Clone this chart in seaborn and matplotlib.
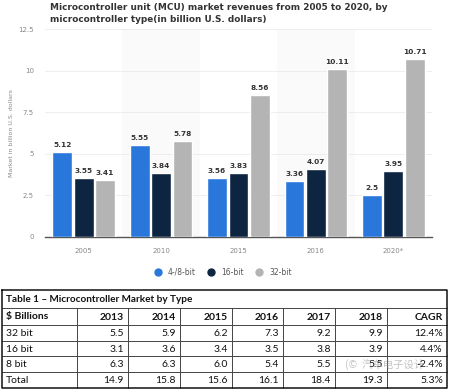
import pandas as pd
import seaborn as sns
import matplotlib.pyplot as plt
from matplotlib.lines import Line2D

# chart data (billion U.S. dollars)
years = ["2005", "2010", "2015", "2016", "2020*"]
mcu_4_8bit = [5.12, 5.55, 3.56, 3.36, 2.5]
mcu_16bit = [3.55, 3.84, 3.83, 4.07, 3.95]
mcu_32bit = [3.41, 5.78, 8.56, 10.11, 10.71]
series_names = ["4-/8-bit", "16-bit", "32-bit"]
colors = ["#2a77dc", "#0e2541", "#b4b4b4"]

# table data
table_title = "Table 1 – Microcontroller Market by Type"
table_header = ["$ Billions", "2013", "2014", "2015", "2016", "2017", "2018", "CAGR"]
row_32bit = ["32 bit", "5.5", "5.9", "6.2", "7.3", "9.2", "9.9", "12.4%"]
row_16bit = ["16 bit", "3.1", "3.6", "3.4", "3.5", "3.8", "3.9", "4.4%"]
row_8bit = ["8 bit", "6.3", "6.3", "6.0", "5.4", "5.5", "5.5", "-2.4%"]
row_total = ["Total", "14.9", "15.8", "15.6", "16.1", "18.4", "19.3", "5.3%"]

sns.set_style("white")
plt.rcParams['font.family'] = ['DejaVu Sans', 'Noto Sans CJK SC']

df = pd.DataFrame({
    "year": years * 3,
    "type": [s for s in series_names for _ in years],
    "value": mcu_4_8bit + mcu_16bit + mcu_32bit,
})

fig = plt.figure(figsize=(4.51, 3.91), dpi=100)
ax = fig.add_axes([0.0998, 0.394, 0.858, 0.5307])

for i in (1, 3):
    ax.axvspan(i - 0.5, i + 0.5, color="#fafafa", zorder=0, lw=0)

sns.barplot(data=df, x="year", y="value", hue="type", palette=colors,
            width=0.83, gap=0.08, ax=ax, legend=False, zorder=3, saturation=1)

for cont, vals in zip(ax.containers, [mcu_4_8bit, mcu_16bit, mcu_32bit]):
    ax.bar_label(cont, labels=[f"{v:g}" for v in vals], padding=3,
                 fontsize=5.3, fontweight="bold", color="#333333")

ax.set_xlim(-0.5, 4.5)
ax.set_ylim(0, 12.5)
ax.set_yticks([0, 2.5, 5, 7.5, 10, 12.5])
ax.set_yticklabels(["0", "2.5", "5", "7.5", "10", "12.5"])
ax.yaxis.grid(True, color="#ebebeb", lw=0.6, zorder=1)
ax.set_axisbelow(True)
ax.tick_params(axis="both", labelsize=5, colors="#888888", length=0, pad=8)
for s in ["left", "right", "top"]:
    ax.spines[s].set_visible(False)
ax.spines["bottom"].set_color("#555555")
ax.spines["bottom"].set_linewidth(1.0)
ax.set_xlabel("")
ax.set_ylabel("Market in billion U.S. dollars", fontsize=4.5, color="#888888", labelpad=3)

fig.text(0.111, 0.992, "Microcontroller unit (MCU) market revenues from 2005 to 2020, by\n"
         "microcontroller type(in billion U.S. dollars)",
         ha="left", va="top", fontsize=6.4, fontweight="bold", color="#333333", linespacing=1.35)

handles = [Line2D([], [], marker="o", ls="", color=c, markersize=5) for c in colors]
fig.legend(handles, series_names, loc="center", bbox_to_anchor=(0.49, 0.304), ncol=3,
           frameon=False, fontsize=5.5, labelcolor="#555555", handletextpad=0.3,
           columnspacing=1.0)

# table drawn in pixel coordinates on an overlay axes
tx = fig.add_axes([0, 0, 1, 1], zorder=5)
tx.set_xlim(0, 451)
tx.set_ylim(391, 0)
tx.axis("off")
tx.patch.set_alpha(0)

col_edges = [2, 77, 128, 180, 232, 283, 335, 387, 447]
row_edges = [290, 308, 325, 341, 356, 372, 388]
rows = [table_header, row_32bit, row_16bit, row_8bit, row_total]

for y in row_edges[1:-1]:
    tx.plot([col_edges[0], col_edges[-1]], [y, y], color="#444444", lw=0.7)
for x in col_edges[1:-1]:
    tx.plot([x, x], [row_edges[1], row_edges[-1]], color="#444444", lw=0.7)
tx.plot([2, 447, 447, 2, 2], [290, 290, 388, 388, 290], color="#111111", lw=1.1)

tfont = ["Lato", "DejaVu Sans"]
tx.text(6, (row_edges[0] + row_edges[1]) / 2 + 0.5, table_title, ha="left", va="center",
        fontsize=7.2, fontweight="bold", color="#111111", family=tfont)
for r, row in enumerate(rows):
    yc = (row_edges[r + 1] + row_edges[r + 2]) / 2 + 0.5
    w = "bold" if r == 0 else "normal"
    tx.text(col_edges[0] + 4, yc, row[0], ha="left", va="center", fontsize=7.5,
            fontweight=w, color="#111111", family=tfont)
    for c, val in enumerate(row[1:], start=1):
        tx.text(col_edges[c + 1] - 4, yc, val, ha="right", va="center", fontsize=7.5,
                fontweight=w, color="#111111", family=tfont)

# watermark
tx.text(345, 364, "(©  汽车电子设计", ha="left", va="center", fontsize=7.5,
        color="#888888", alpha=0.5, family=["Noto Sans CJK SC", "DejaVu Sans"])

fig.savefig("out.png", dpi=100, facecolor="white")
